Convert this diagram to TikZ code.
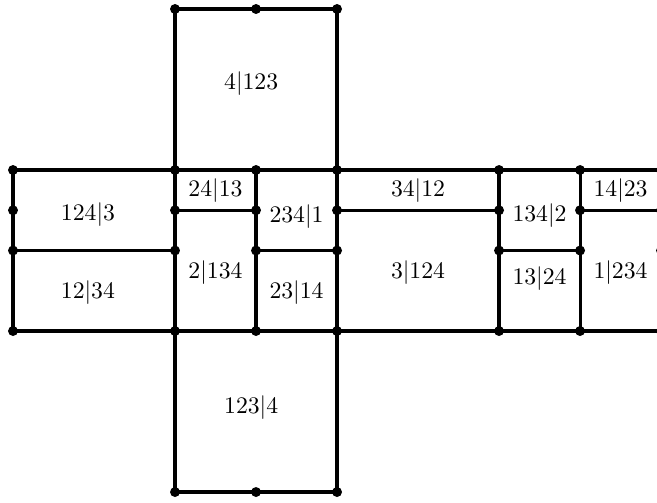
\documentclass[tikz,border=0pt]{standalone}
\usetikzlibrary{positioning}
\tikzset{
  edge/.style={line width=1.3pt},
  vert/.style={fill=black},
  cell/.style={inner sep=1pt},
}
\begin{document}
\begin{tikzpicture}[x=0.6cm, y=0.5963cm]
  \useasboundingbox (-0.321,-0.248) rectangle (15.90,12.224);
  % vertices of the middle band
  \foreach \x in {0,4,6,8,12,14,16}
    \foreach \y in {4,6,7,8}
      \coordinate (v\x-\y) at (\x,\y);
  % vertices of the upper and lower squares
  \foreach \x in {4,6,8} {
    \coordinate (v\x-0) at (\x,0);
    \coordinate (v\x-12) at (\x,12);
  }
  % edges
  \draw[edge] (v0-8) -- (v16-8);
  \draw[edge] (v0-4) -- (v16-4);
  \draw[edge] (v4-0) -- (v8-0) -- (v8-12) -- (v4-12) -- cycle;
  \foreach \x in {0,6,12,14,16}
    \draw[edge] (v\x-4) -- (v\x-8);
  \draw[edge] (v0-6) -- (v4-6) (v6-6) -- (v8-6) (v12-6) -- (v14-6);
  \draw[edge] (v4-7) -- (v6-7) (v8-7) -- (v12-7) (v14-7) -- (v16-7);
  % dots
  \foreach \x in {0,4,6,8,12,14,16}
    \foreach \y in {4,6,7,8}
      \fill[vert] (v\x-\y) circle (2.1pt);
  \foreach \x in {4,6,8} {
    \fill[vert] (v\x-0) circle (2.1pt);
    \fill[vert] (v\x-12) circle (2.1pt);
  }
  % cell labels
  \node[cell] (p4-123) at (5.88,10.15) {$4|123$};
  \node[cell] (p124-3) at (1.85,6.9) {$124|3$};
  \node[cell] (p12-34) at (1.85,4.95) {$12|34$};
  \node[cell] (p24-13) at (5,7.5) {$24|13$};
  \node[cell] (p2-134) at (5,5.45) {$2|134$};
  \node[cell] (p234-1) at (7,6.85) {$234|1$};
  \node[cell] (p23-14) at (7,4.95) {$23|14$};
  \node[cell] (p34-12) at (10,7.5) {$34|12$};
  \node[cell] (p3-124) at (10,5.45) {$3|124$};
  \node[cell] (p134-2) at (13,6.87) {$134|2$};
  \node[cell] (p13-24) at (13,5.3) {$13|24$};
  \node[cell] (p14-23) at (15,7.5) {$14|23$};
  \node[cell] (p1-234) at (15,5.45) {$1|234$};
  \node[cell] (p123-4) at (5.88,2.1) {$123|4$};
\end{tikzpicture}
\end{document}
